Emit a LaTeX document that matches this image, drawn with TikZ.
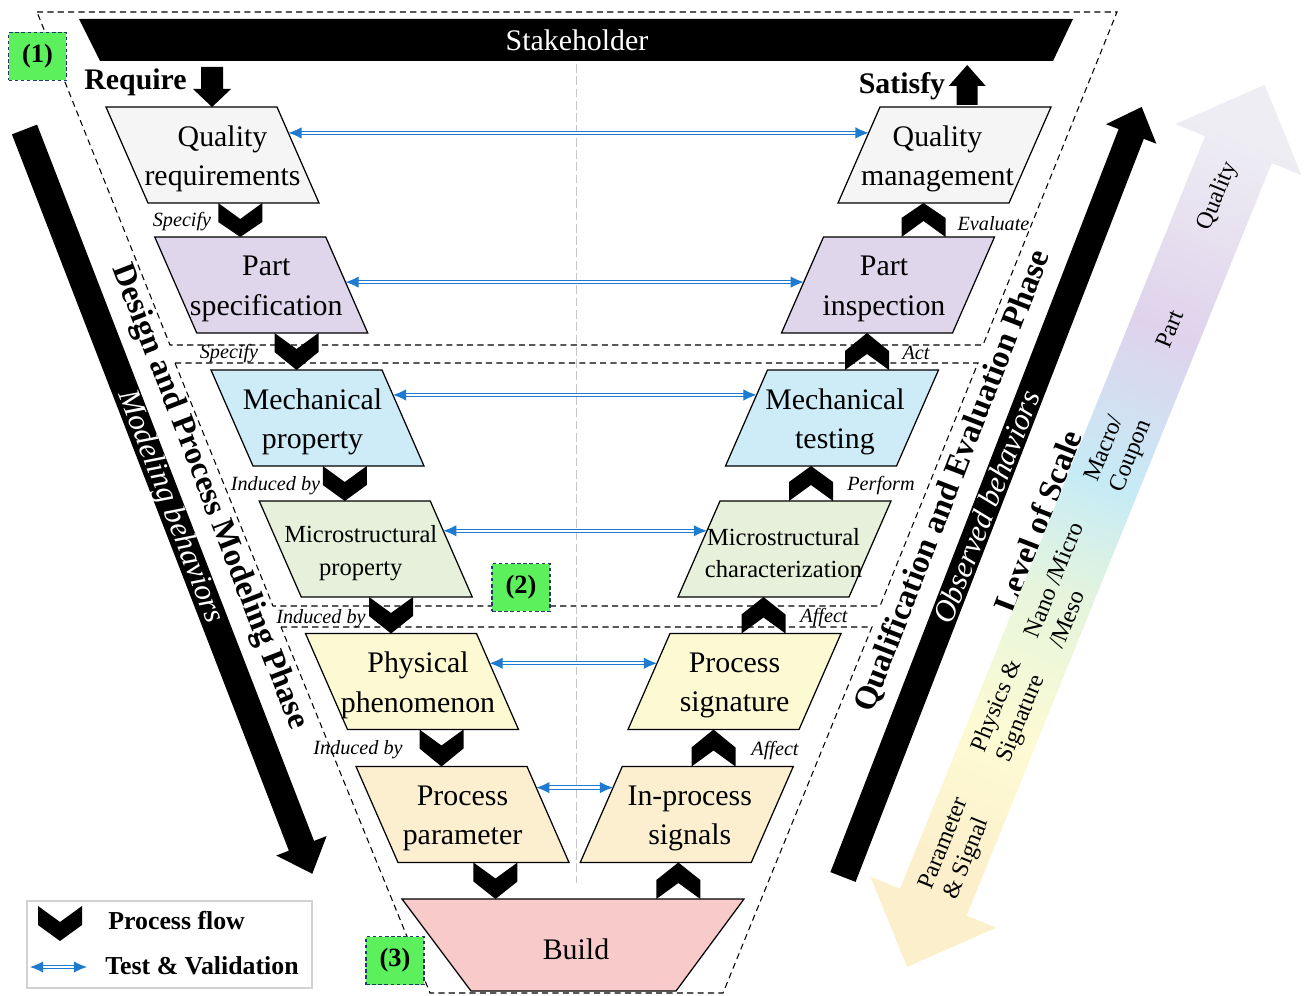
\documentclass[tikz,border=0pt]{standalone}
\usepackage{fontspec}
\setmainfont{Liberation Serif}
\usetikzlibrary{calc,arrows.meta}

\definecolor{qrfill}{RGB}{245,245,245}
\definecolor{psfill}{RGB}{224,214,236}
\definecolor{mpfill}{RGB}{205,236,248}
\definecolor{msfill}{RGB}{230,240,219}
\definecolor{phfill}{RGB}{252,249,211}
\definecolor{ppfill}{RGB}{252,239,208}
\definecolor{bdfill}{RGB}{248,202,202}
\definecolor{tvblue}{RGB}{30,123,208}
\definecolor{lblgreen}{RGB}{92,240,92}
\definecolor{lblblue}{RGB}{31,56,110}
\definecolor{gA}{RGB}{252,240,204}
\definecolor{gB}{RGB}{253,251,212}
\definecolor{gC}{RGB}{230,245,220}
\definecolor{gD}{RGB}{198,235,246}
\definecolor{gE}{RGB}{223,211,236}
\definecolor{gF}{RGB}{238,237,243}

% colour ramp of the scale arrow, running from its lower tip to its upper tip
\pgfdeclarehorizontalshading{scalegrad}{100bp}{color(0bp)=(gA); color(31bp)=(gA);
  color(38bp)=(gB); color(46bp)=(gC); color(52.5bp)=(gD); color(61bp)=(gE);
  color(72bp)=(gF); color(100bp)=(gF)}

\newcommand\boxfont{\fontsize{17}{22.5}\selectfont}
\newcommand\smallboxfont{\fontsize{14}{18.5}\selectfont}

% parallelogram leaning left (design side): [font] name, cx, cy, fill, text shift, text
\newcommand\LeftBox[7][\boxfont]{%
  \filldraw[boxline,fill=#5] (#3-106.5,#4-48) coordinate (#2-tl) -- (#3+64.5,#4-48) coordinate (#2-tr)
    -- (#3+106.5,#4+48) coordinate (#2-br) -- (#3-64.5,#4+48) coordinate (#2-bl) -- cycle;
  \coordinate (#2-t) at ($(#2-tl)!0.5!(#2-tr)$);
  \coordinate (#2-b) at ($(#2-bl)!0.5!(#2-br)$);
  \node[boxtext,font=#1] (#2) at (#3+#6,#4+4) {#7};}
% parallelogram leaning right (evaluation side)
\newcommand\RightBox[7][\boxfont]{%
  \filldraw[boxline,fill=#5] (#3-64.5,#4-48) coordinate (#2-tl) -- (#3+106.5,#4-48) coordinate (#2-tr)
    -- (#3+64.5,#4+48) coordinate (#2-br) -- (#3-106.5,#4+48) coordinate (#2-bl) -- cycle;
  \coordinate (#2-t) at ($(#2-tl)!0.5!(#2-tr)$);
  \coordinate (#2-b) at ($(#2-bl)!0.5!(#2-br)$);
  \node[boxtext,font=#1] (#2) at (#3+#6,#4+4) {#7};}
% process-flow chevrons: #1 a point on the edge they start from, #2 the tip
\newcommand\ChevDown[2]{%
  \fill ($(#2 |- #1)+(-22,0)$) -- ($(#2 |- #1)+(0,16)$) -- ($(#2 |- #1)+(22,0)$)
    -- ($(#2 |- #1)+(22,19)$) -- (#2) -- ($(#2 |- #1)+(-22,19)$) -- cycle;}
\newcommand\ChevUp[2]{%
  \fill ($(#2 |- #1)+(-22,0)$) -- ($(#2 |- #1)+(0,-16)$) -- ($(#2 |- #1)+(22,0)$)
    -- ($(#2 |- #1)+(22,-19)$) -- (#2) -- ($(#2 |- #1)+(-22,-19)$) -- cycle;}

\begin{document}
\begin{tikzpicture}[x=0.02cm,y=-0.02cm,
  boxline/.style={draw=black,line width=0.7pt},
  boxtext/.style={align=center,inner sep=0pt,minimum width=3.42cm,minimum height=1.92cm},
  regdash/.style={draw=black,line width=0.6pt,dash pattern=on 3.5pt off 2.4pt},
  tv/.style={draw=tvblue,double=white,double distance=1.3pt,line width=0.6pt,
    {Latex[length=7.5pt,width=6.5pt]}-{Latex[length=7.5pt,width=6.5pt]}},
  flowlbl/.style={font=\fontsize{11.5}{13}\selectfont\itshape,inner sep=0pt},
  grn/.style={fill=lblgreen,draw=lblblue,dash pattern=on 2pt off 1.5pt,line width=0.8pt,
    minimum width=1.16cm,minimum height=0.96cm,inner sep=0pt,font=\fontsize{15}{16}\selectfont\bfseries},
  scaletxt/.style={font=\fontsize{13.6}{15.5}\selectfont,align=left,rotate=67.9,inner sep=0pt},
  bigbold/.style={font=\fontsize{18.5}{20}\selectfont\bfseries,inner sep=0pt},
  bandtxt/.style={font=\fontsize{17.5}{20}\selectfont\itshape,text=white,inner sep=0pt},
  legtxt/.style={font=\fontsize{14.7}{17}\selectfont\bfseries,anchor=west,inner sep=0pt}]

\useasboundingbox (0,0) rectangle (1307,996);

% phase regions
\draw[regdash] (37,12) -- (1117,12) -- (983,345) -- (170,345) -- cycle;
\draw[regdash] (175,363) -- (978,363) -- (880,606) -- (273,606) -- cycle;
\draw[regdash] (281,627) -- (872,627) -- (723,993) -- (430,993) -- cycle;

% centre line
\coordinate (ctop) at (576.5,64);
\coordinate (cbot) at (576.5,883);
\draw[gray!45,line width=0.45pt,dash pattern=on 5pt off 2pt] (ctop) -- (cbot);

% stakeholder bar
\fill (79,19) -- (1073,19) -- (1053,61) -- (100,61) -- cycle;
\node[font=\fontsize{17}{20}\selectfont,text=white] (sh) at (577,40) {Stakeholder};

% design side
\LeftBox{qr}{212.5}{155}{qrfill}{10}{Quality\\requirements}
\LeftBox{ps}{261.25}{285}{psfill}{5}{Part\\specification}
\LeftBox{mp}{317.5}{418}{mpfill}{-5}{Mechanical\\property}
\LeftBox[\smallboxfont]{ms}{365.75}{549}{msfill}{-5}{Microstructural\\property}
\LeftBox{ph}{412}{681.5}{phfill}{6}{Physical\\phenomenon}
\LeftBox{pp}{462.5}{814.5}{ppfill}{0}{Process\\parameter}

% evaluation side
\RightBox{qm}{944.5}{155}{qrfill}{-7}{Quality\\management}
\RightBox{pi}{888}{285}{psfill}{-4}{Part\\inspection}
\RightBox{mt}{832}{418}{mpfill}{3}{Mechanical\\testing}
\RightBox[\smallboxfont]{mc}{784.5}{549}{msfill}{-1}{Microstructural\\characterization}
\RightBox{sg}{734.5}{681.5}{phfill}{0}{Process\\signature}
\RightBox{ip}{686.75}{814.5}{ppfill}{3}{In-process\\signals}

% build
\filldraw[boxline,fill=bdfill] (402,899) coordinate (build-tl) -- (744,899) coordinate (build-tr)
  -- (676,991) coordinate (build-br) -- (471,991) coordinate (build-bl) -- cycle;
\node[font=\boxfont] (build) at (576,949) {Build};

% require / satisfy
\node[font=\fontsize{17}{20}\selectfont\bfseries] (req) at (135.5,82) {Require};
\node[font=\fontsize{17}{20}\selectfont\bfseries] (sat) at (902,86) {Satisfy};
\coordinate (rq) at ($(qr-tl)!0.62!(qr-tr)$);
\fill (rq) -- ++(19,-18) -- ++(-8,0) -- ++(0,-22) -- ++(-22,0) -- ++(0,22) -- ++(-8,0) -- cycle;
\coordinate (sf) at ($(qm-tl)!0.51!(qm-tr)$);
\fill (sf) ++(-10.5,-2) -- ++(21,0) -- ++(0,-19) -- ++(8,0) -- ++(-18.5,-21) -- ++(-18.5,21) -- ++(8,0) -- cycle;

% process flow
\ChevDown{qr-bl}{ps-t}
\ChevDown{ps-bl}{mp-t}
\ChevDown{mp-bl}{ms-t}
\ChevDown{ms-bl}{ph-t}
\ChevDown{ph-bl}{pp-t}
\coordinate (k6a) at ($(pp-bl)!0.57!(pp-br)$);
\coordinate (k6) at (k6a |- build-tl);
\ChevDown{pp-bl}{k6}
\coordinate (k7a) at ($(build-tl)!0.808!(build-tr)$);
\coordinate (k7) at (k7a |- ip-bl);
\ChevUp{build-tl}{k7}
\ChevUp{ip-tl}{sg-b}
\ChevUp{sg-tl}{mc-b}
\ChevUp{mc-tl}{mt-b}
\ChevUp{mt-tl}{pi-b}
\ChevUp{pi-tl}{qm-b}

% flow labels
\node[flowlbl] (f1) at (182,222) {Specify};
\node[flowlbl] (f2) at (229,354) {Specify};
\node[flowlbl] (f3) at (275.5,486) {Induced by};
\node[flowlbl] (f4) at (321,619) {Induced by};
\node[flowlbl] (f5) at (358,750) {Induced by};
\node[flowlbl] (f6) at (775,751) {Affect};
\node[flowlbl] (f7) at (824,618) {Affect};
\node[flowlbl] (f8) at (881,486) {Perform};
\node[flowlbl] (f9) at (916,353) {Act};
\node[flowlbl] (f10) at (993.5,224) {Evaluate};

% test & validation
\draw[tv] ($(qr-tr)!0.27!(qr-br)$) -- ($(qm-tl)!0.27!(qm-bl)$);
\draw[tv] ($(ps-tr)!0.47!(ps-br)$) -- ($(pi-tl)!0.47!(pi-bl)$);
\draw[tv] ($(mp-tr)!0.26!(mp-br)$) -- ($(mt-tl)!0.26!(mt-bl)$);
\draw[tv] ($(ms-tr)!0.31!(ms-br)$) -- ($(mc-tl)!0.31!(mc-bl)$);
\draw[tv] ($(ph-tr)!0.31!(ph-br)$) -- ($(sg-tl)!0.31!(sg-bl)$);
\draw[tv] ($(pp-tr)!0.22!(pp-br)$) -- ($(ip-tl)!0.22!(ip-bl)$);

% region tags
\node[grn] (g1) at (37.5,56.5) {(1)};
\node[grn] (g2) at (521,587.5) {(2)};
\node[grn] (g3) at (395,960.5) {(3)};

% modeling band (left)
\begin{scope}[shift={(24.5,129.5)},rotate=-68.86]
  \fill (0,13.5) -- (768,13.5) -- (768,27) -- (798,0) -- (768,-27) -- (768,-13.5) -- (0,-13.5) -- cycle;
\end{scope}
\node[bigbold,rotate=-68.86] (dpm) at (209,497) {Design and Process Modeling Phase};
\node[bandtxt,rotate=-68.86] (mb) at (170,507) {Modeling behaviors};

% evaluation band (right)
\begin{scope}[shift={(843,877)},rotate=68.8]
  \fill (0,13.5) -- (797,13.5) -- (797,27) -- (826,0) -- (797,-27) -- (797,-13.5) -- (0,-13.5) -- cycle;
\end{scope}
\node[bigbold,rotate=68.8] (qep) at (953,481) {Qualification and Evaluation Phase};
\node[bandtxt,rotate=68.8] (ob) at (986,507) {Observed behaviors};
\node[bigbold,rotate=68.8] (los) at (1038,521) {Level of Scale};

% level-of-scale arrow
\begin{scope}[transform canvas={shift={(907,967)},rotate=67.93}]
  \shade[shading=scalegrad] (0,0) -- (70,68) -- (70,36) -- (882,36) -- (882,68) -- (952,0)
    -- (882,-68) -- (882,-36) -- (70,-36) -- (70,-68) -- cycle;
\end{scope}
\node[scaletxt] (s1) at (957,849) {Parameter\\\& Signal};
\node[scaletxt] (s2) at (1010,711) {Physics \&\\Signature};
\node[scaletxt] (s3) at (1066,585) {Nano /Micro\\/Meso};
\node[scaletxt] (s4) at (1119,451) {Macro/\\Coupon};
\node[scaletxt] (s5) at (1170,329) {Part};
\node[scaletxt] (s6) at (1218,196) {Quality};

% legend
\draw[gray!35,line width=0.9pt] (27,901) rectangle (312,988);
\coordinate (lgtop) at (60,906);
\coordinate (lgtip) at (60,941);
\ChevDown{lgtop}{lgtip}
\node[legtxt] (lg1) at (108,921) {Process flow};
\coordinate (lga) at (30,967);
\coordinate (lgb) at (87,967);
\draw[tv] (lga) -- (lgb);
\node[legtxt] (lg2) at (105,966) {Test \& Validation};
\end{tikzpicture}
\end{document}
